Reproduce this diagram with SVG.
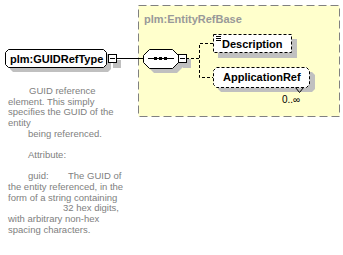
<svg xmlns="http://www.w3.org/2000/svg" width="343" height="255" viewBox="0 0 343 255">
<style>
.bg{fill:#ffffff}
.grp{fill:#ffffcc;stroke:#808080;stroke-width:1;stroke-dasharray:8,4}
.grpt{font-family:"Liberation Sans",Arial,sans-serif;font-weight:bold;font-size:11px;fill:#999999}
.sh{fill:#c0c0c0}
.nd{fill:#ffffff;stroke:#000000;stroke-width:1}
.dnd{fill:#ffffff;stroke:#000000;stroke-width:1;stroke-dasharray:3,2}
.lbl{font-family:"Liberation Sans",Arial,sans-serif;font-weight:bold;font-size:11px;fill:#000000}
.occ{font-family:"Liberation Sans",Arial,sans-serif;font-size:10px;fill:#000000}
.ann{font-family:"Liberation Sans",Arial,sans-serif;font-size:9.5px;fill:#808080}
.ln{stroke:#000000;stroke-width:1;fill:none}
.dln{stroke:#000000;stroke-width:1;fill:none;stroke-dasharray:3,2}
</style>
<rect class="bg" x="0" y="0" width="343" height="255"/>
<g id="EntityRefBase">
<rect class="grp" x="138.5" y="5.5" width="201" height="111"/>
<text class="grpt" x="144" y="23">plm:EntityRefBase</text>
</g>
<g id="connectors">
<line class="ln" x1="116" y1="58.5" x2="143" y2="58.5"/>
<polyline class="dln" points="186,58.5 199.5,58.5"/>
<polyline class="dln" points="213,43.5 199.5,43.5 199.5,77.5 213,77.5"/>
</g>
<g id="GUIDRefType">
<polygon class="sh" points="13,54 108,54 111,57 111,69 108,72 13,72 10,69 10,57"/>
<rect class="sh" x="113" y="60" width="8" height="8"/>
<polygon class="nd" points="8.5,49.5 103.5,49.5 106.5,52.5 106.5,64.5 103.5,67.5 8.5,67.5 5.5,64.5 5.5,52.5"/>
<text class="lbl" x="10" y="63">plm:GUIDRefType</text>
<rect class="nd" x="108.5" y="54.5" width="8" height="8"/>
<line class="ln" x1="110" y1="58.5" x2="115" y2="58.5"/>
</g>
<g id="sequence">
<polygon class="sh" points="154,54 177,54 183,60 183,67 177,73 154,73 148,67 148,60"/>
<rect class="sh" x="183" y="59" width="8" height="9"/>
<polygon class="nd" points="149.5,49.5 172.5,49.5 178.5,55.5 178.5,62.5 172.5,68.5 149.5,68.5 143.5,62.5 143.5,55.5"/>
<line class="ln" x1="148" y1="58.5" x2="174" y2="58.5"/>
<rect x="154" y="57" width="3" height="3" fill="#000"/>
<rect x="159" y="57" width="3" height="3" fill="#000"/>
<rect x="164" y="57" width="3" height="3" fill="#000"/>
<rect class="nd" x="178.5" y="54.5" width="8" height="8"/>
<line class="ln" x1="180" y1="58.5" x2="185" y2="58.5"/>
</g>
<g id="Description">
<rect class="sh" x="218" y="39" width="79" height="19"/>
<rect class="dnd" x="213.5" y="34.5" width="78" height="18"/>
<line class="ln" x1="216" y1="36.5" x2="221" y2="36.5"/>
<line class="ln" x1="216" y1="38.5" x2="221" y2="38.5"/>
<line class="ln" x1="216" y1="40.5" x2="221" y2="40.5"/>
<text class="lbl" x="222" y="48">Description</text>
</g>
<g id="ApplicationRef">
<polygon class="sh" points="221,72 312,72 315,75 315,89 312,92 221,92 218,89 218,75"/>
<polygon class="dnd" points="216.5,67.5 306.5,67.5 309.5,70.5 309.5,84.5 306.5,87.5 216.5,87.5 213.5,84.5 213.5,70.5"/>
<text class="lbl" x="223" y="81">ApplicationRef</text>
<polyline class="ln" points="295.5,87.5 299.5,92.5 303.5,87.5"/>
<text class="occ" x="282" y="103">0..∞</text>
</g>
<g id="annotation">
<text class="ann"><tspan x="29" y="94">GUID reference</tspan><tspan x="8" y="104.7">element. This simply</tspan><tspan x="8" y="115.3">specifies the GUID of the</tspan><tspan x="8" y="126">entity</tspan><tspan x="28" y="136.7">being referenced.</tspan><tspan x="28" y="158">Attribute:</tspan><tspan x="28" y="179.3">guid:</tspan><tspan x="68" y="179.3">The GUID of</tspan><tspan x="8" y="190">the entity referenced, in the</tspan><tspan x="8" y="200.7">form of a string containing</tspan><tspan x="63" y="211.3">32 hex digits,</tspan><tspan x="8" y="222">with arbitrary non-hex</tspan><tspan x="8" y="232.7">spacing characters.</tspan></text>
</g>
</svg>
